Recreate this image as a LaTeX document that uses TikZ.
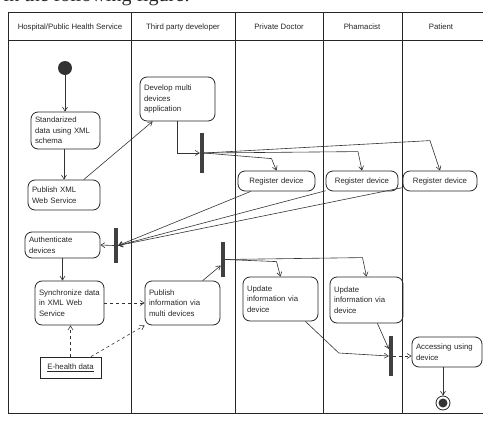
\documentclass[tikz,border=0pt]{standalone}
\usepackage{fontspec}
\setmainfont{Liberation Sans}
\newfontfamily\capfont{Liberation Serif}
\usetikzlibrary{arrows.meta}
\usetikzlibrary{calc}

\begin{document}
\begin{tikzpicture}[x=1pt,y=-1pt,
        >={Straight Barb[length=4pt,width=5pt]},
        every node/.style={font=\fontsize{7.8}{10.5}\selectfont, text=black!85},
        act/.style={draw=black!85, line width=0.8pt, rounded corners=7pt, align=left, inner xsep=4pt, inner ysep=1pt, text width=#1},
        obj/.style={draw=black!85, line width=0.8pt, inner sep=0pt},
        bar/.style={fill=black!75, inner sep=0pt, minimum width=4pt},
        lane/.style={line width=1pt, draw=black!85},
        flow/.style={->, line width=0.6pt, draw=black!80},
        objflow/.style={flow, dashed}]
        \useasboundingbox (0,0) rectangle (483,421);
        \clip (0,0) rectangle (483,421);
        % text above the figure, cut off by the page
        \node[font=\capfont\fontsize{20}{20}\selectfont, anchor=base east, inner sep=0pt] (caption) at (190,1.5) {in the following figure:};
        % swimlanes
        \draw[lane] (8,12) rectangle (492,413);
        \draw[lane] (8,40) -- (492,40);
        \foreach \x in {131,235,323,402}
            \draw[lane] (\x,12) -- (\x,413);
        \node (hhosp) at (70,27) {Hospital/Public Health Service};
        \node (hdev) at (183,27) {Third party developer};
        \node (hdoc) at (279,27) {Private Doctor};
        \node (hpharm) at (362,27) {Phamacist};
        \node (hpat) at (441,27) {Patient};
        % activities
        \node[fill=black!80, circle, minimum size=14pt, inner sep=0pt] (start) at (65,68) {};
        \node[act=61pt, minimum height=37pt] (std) at (65.5,130.5) {Standarized\\data using XML\\schema};
        \node[act=64pt, minimum height=30pt] (pubxml) at (64,195) {Publish XML\\Web Service};
        \node[act=67pt, minimum height=44pt] (dev) at (177.5,99) {Develop multi\\devices\\application};
        \node[bar, minimum height=40pt] (bar1) at (202,153) {};
        \node[act=69pt, align=center, minimum height=20pt] (regdoc) at (276.5,181) {Register device};
        \node[act=64pt, align=center, minimum height=20pt] (regph) at (362,181) {Register device};
        \node[act=66pt, align=center, minimum height=20pt] (regpt) at (440,181) {Register device};
        \node[bar, minimum height=35pt] (bar2) at (116,245.5) {};
        \node[act=67pt, minimum height=26pt] (auth) at (62.5,245) {Authenticate\\devices};
        \node[act=61pt, minimum height=44pt] (sync) at (69.5,303) {Synchronize data\\in XML Web\\Service};
        \node[act=67pt, minimum height=44pt] (pubinfo) at (182.5,303) {Publish\\information via\\multi devices};
        \node[obj, minimum width=61pt, minimum height=21pt] (ehealth) at (70.5,367.5) {\underline{E-health data}};
        \node[bar, minimum height=35pt] (bar3) at (223,259.5) {};
        \node[act=67pt, minimum height=44pt] (upddoc) at (280.5,299) {Update\\information via\\device};
        \node[act=65pt, minimum height=46pt] (updph) at (366.5,300) {Update\\information via\\device};
        \node[bar, minimum height=40pt] (bar4) at (391,356) {};
        \node[act=62pt, minimum height=30pt] (access) at (447,352) {Accessing using\\device};
        \node[draw=black!85, line width=0.8pt, circle, minimum size=14pt, inner sep=0pt] (finish) at (443,403) {};
        \fill[black!80] (finish.center) circle (4.5pt);
        % control flow
        \draw[flow] (start) -- (start |- std.north);
        \draw[flow] (std.south -| pubxml.north) -- (pubxml.north);
        \draw[flow] (pubxml.38) -- (dev.222);
        \draw[flow] (dev.south) |- (bar1.west);
        \draw[flow] (bar1.east) -- ($(regdoc.north)+(-5,-12)$) -- (regdoc.north);
        \draw[flow] (bar1.east) -- ($(regph.north)+(-4,-19)$) -- (regph.north);
        \draw[flow] (bar1.east) -- ($(regpt.north)+(-10,-30)$) -- (regpt.north);
        \draw[flow] (regdoc.202) -- (bar2.east);
        \draw[flow] (regph.195) -- (bar2.east);
        \draw[flow] (regpt.190) -- (bar2.east);
        \draw[flow] (bar2.west) -- (auth.east);
        \draw[flow] (auth.south) -- (auth.south |- sync.north);
        \draw[objflow] (sync.east) -- (pubinfo.west);
        \draw[objflow] (ehealth.north) -- (ehealth.north |- sync.south);
        \draw[objflow] (ehealth.28) -- (pubinfo.south west);
        \draw[flow] (pubinfo.48) -- ($(bar3.west)+(0,6)$);
        \draw[flow] (bar3.east) -- ($(upddoc.north)+(-4,-15)$) -- (upddoc.north);
        \draw[flow] (bar3.east) -- ($(updph.north)+(-4,-19)$) -- (updph.north);
        \draw[flow] (upddoc.-42) -- ($(bar4.west)+(-50,-3)$) -- (bar4.west);
        \draw[flow] (updph.-65) -- ($(bar4.west)+(0,-7)$);
        \draw[objflow] (bar4.east) -- (bar4.east -| access.west);
        \draw[flow] (access.south -| finish.north) -- (finish.north);
\end{tikzpicture}
\end{document}
